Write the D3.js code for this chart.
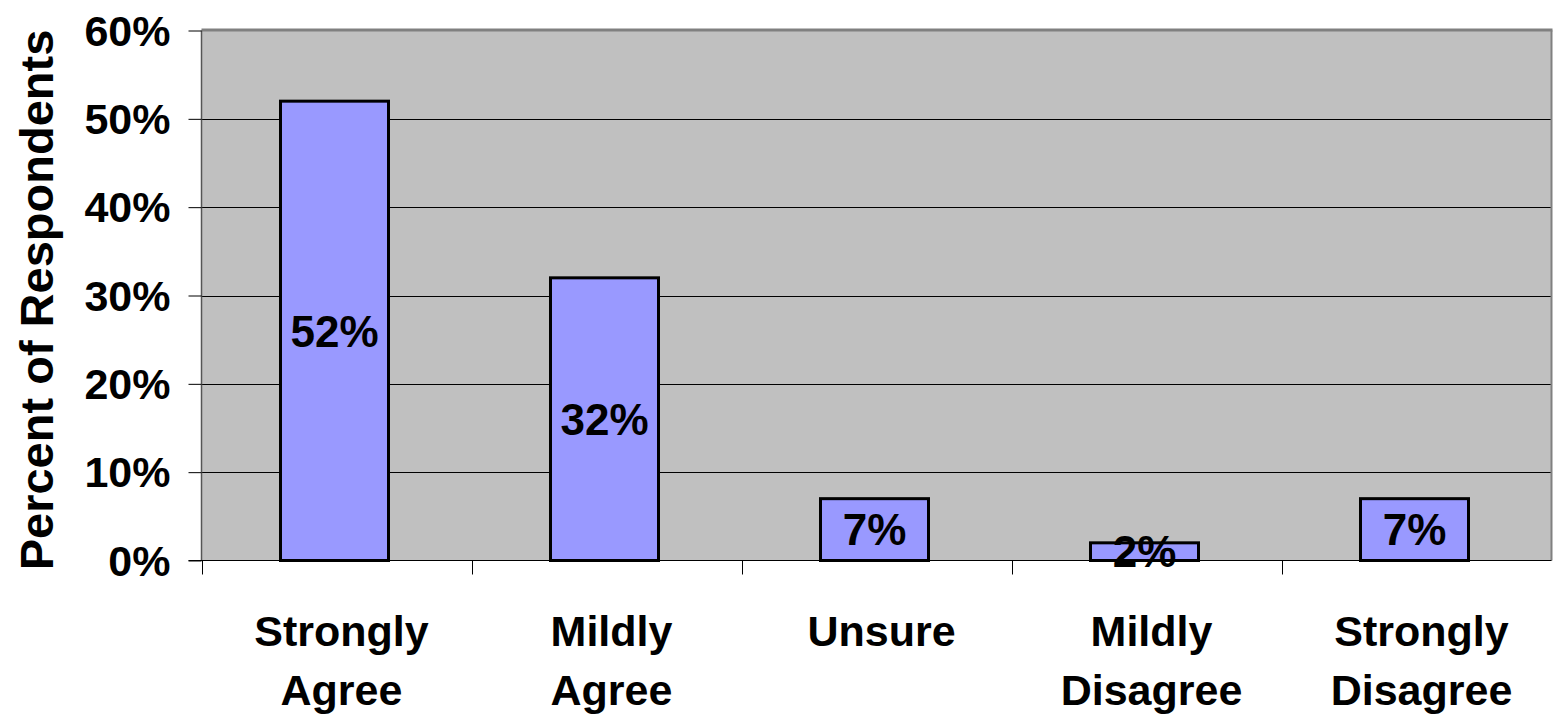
<!DOCTYPE html>
<html>
<head>
<meta charset="utf-8">
<script src="https://cdn.jsdelivr.net/npm/d3@7"></script>
<style>
  html, body { margin: 0; padding: 0; background: #fff; }
  svg { display: block; font-family: "Liberation Sans", Arial, sans-serif; font-weight: bold; }
</style>
</head>
<body>
<svg id="chart" width="1553" height="721"></svg>
<script>
// Survey responses
const categories = [
  ["Strongly", "Agree"],
  ["Mildly", "Agree"],
  ["Unsure"],
  ["Mildly", "Disagree"],
  ["Strongly", "Disagree"]
];
const values = [52, 32, 7, 2, 7];
const yTicks = [0, 10, 20, 30, 40, 50, 60];
const yTitle = "Percent of Respondents";

const svg = d3.select("#chart");
const plotLeft = 201.5, plotRight = 1551.5, plotTop = 30.5, plotBottom = 560.5;

const keys = categories.map(c => c.join(" "));
const x = d3.scaleBand().domain(keys).range([plotLeft, plotRight]).paddingInner(0).paddingOuter(0);
const y = d3.scaleLinear().domain([0, 60]).range([plotBottom, plotTop]);

// plot background
svg.append("rect")
  .attr("x", plotLeft).attr("y", plotTop)
  .attr("width", plotRight - plotLeft).attr("height", plotBottom - plotTop)
  .attr("fill", "#C0C0C0");

// horizontal gridlines
svg.append("g").selectAll("line")
  .data(yTicks.filter(t => t > 0 && t < 60))
  .join("line")
  .attr("x1", plotLeft).attr("x2", plotRight)
  .attr("y1", d => Math.round(y(d)) + 0.5).attr("y2", d => Math.round(y(d)) + 0.5)
  .attr("stroke", "#000").attr("stroke-width", 1);

// frame: darker top and right edges
svg.append("line").attr("x1", plotLeft).attr("x2", plotRight + 1).attr("y1", plotTop - 0.5).attr("y2", plotTop - 0.5)
  .attr("stroke", "#808080").attr("stroke-width", 3);
svg.append("line").attr("x1", plotRight).attr("x2", plotRight).attr("y1", plotTop).attr("y2", plotBottom)
  .attr("stroke", "#808080").attr("stroke-width", 2);

// bars
const barW = x.bandwidth() * 0.4;
const barX = i => x(keys[i]) + (x.bandwidth() - barW) / 2 - 2;
svg.append("g").selectAll("rect")
  .data(values)
  .join("rect")
  .attr("x", (d, i) => barX(i))
  .attr("y", d => y(d))
  .attr("width", barW)
  .attr("height", d => y(0) - y(d))
  .attr("fill", "#9999FF")
  .attr("stroke", "#000")
  .attr("stroke-width", 3);

// value labels, centered inside the bars
const valueSize = 44;
svg.append("g").selectAll("text")
  .data(values)
  .join("text")
  .attr("x", (d, i) => barX(i) + barW / 2)
  .attr("y", d => (y(d) + y(0)) / 2 + valueSize * 0.358)
  .attr("text-anchor", "middle")
  .attr("font-size", valueSize)
  .attr("fill", "#000")
  .text(d => d + "%");

// y axis
const yAxis = d3.axisLeft(y).tickValues(yTicks).tickFormat(d => d + "%").tickSize(13).tickPadding(18);
const gy = svg.append("g").attr("transform", `translate(${plotLeft},0)`).call(yAxis);
gy.select(".domain").attr("stroke", "#555").attr("stroke-width", 1.5).attr("d", `M0,${plotTop}V${plotBottom}`);
gy.selectAll(".tick line").attr("stroke", "#000");
gy.selectAll(".tick text")
  .attr("font-size", 43).attr("font-weight", "bold")
  .attr("font-family", "Liberation Sans, Arial, sans-serif")
  .attr("fill", "#000")
  .attr("dy", "0.34em");

// x axis line and category boundary ticks
const gx = svg.append("g");
gx.append("line").attr("x1", plotLeft - 13).attr("x2", plotRight).attr("y1", plotBottom).attr("y2", plotBottom)
  .attr("stroke", "#000").attr("stroke-width", 1);
const bounds = keys.map(k => x(k));
gx.selectAll("line.tk").data(bounds).join("line").attr("class", "tk")
  .attr("x1", d => Math.round(d) + 0.5).attr("x2", d => Math.round(d) + 0.5)
  .attr("y1", plotBottom).attr("y2", plotBottom + 14)
  .attr("stroke", "#000").attr("stroke-width", 1);

// category labels
const cl = svg.append("g").selectAll("text")
  .data(categories)
  .join("text")
  .attr("x", (d, i) => x(keys[i]) + x.bandwidth() / 2 + 5)
  .attr("text-anchor", "middle")
  .attr("font-size", 43)
  .attr("fill", "#000");
cl.each(function(d) {
  const t = d3.select(this);
  d.forEach((line, j) => {
    t.append("tspan")
      .attr("x", t.attr("x"))
      .attr("y", 646 + j * 59)
      .text(line);
  });
});

// y axis title
svg.append("text")
  .attr("transform", `translate(53, 300) rotate(-90)`)
  .attr("text-anchor", "middle")
  .attr("font-size", 47)
  .attr("fill", "#000")
  .text(yTitle);
</script>
</body>
</html>
